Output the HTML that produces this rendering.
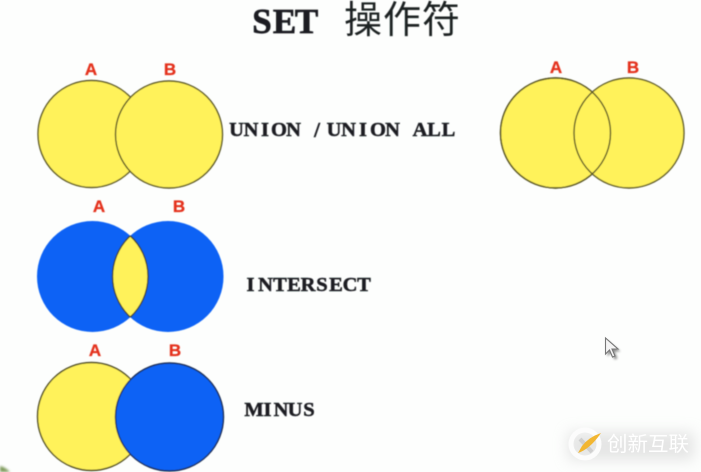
<!DOCTYPE html>
<html><head><meta charset="utf-8">
<style>html,body{margin:0;padding:0;background:#fdfefd}svg{display:block}
.m{font-family:"Liberation Serif",serif;font-weight:bold;fill:#1c1f22;stroke:#1c1f22;stroke-width:.5;text-anchor:middle}
.l{font-family:"Liberation Sans",sans-serif;font-weight:bold;font-size:17px;fill:#e4331f;stroke:#e4331f;stroke-width:.3;text-anchor:middle}
.c{font-family:"Liberation Sans","Noto Sans CJK SC",sans-serif}
</style></head><body>
<svg width="701" height="472" viewBox="0 0 701 472" xmlns="http://www.w3.org/2000/svg">
<defs>
<filter id="b" x="-5%" y="-5%" width="110%" height="110%"><feGaussianBlur stdDeviation="0.45"/></filter>
<filter id="s" x="-30%" y="-60%" width="160%" height="220%"><feGaussianBlur stdDeviation="7"/></filter>
<filter id="t" x="-50%" y="-50%" width="200%" height="200%"><feGaussianBlur stdDeviation="1.2"/></filter>
<clipPath id="lens"><circle cx="92.5" cy="276.5" r="55.5"/></clipPath>
</defs>
<rect width="701" height="472" fill="#fdfefd"/>
<g filter="url(#b)">
<text class="m" style="stroke-width:.7" x="262 284.500 306.500" y="33" font-size="35">SET</text>
<text class="c" x="344" y="33" font-size="38" fill="#1f2123" textLength="116">操作符</text>

<text class="l" x="91" y="75">A</text><text class="l" x="170" y="75">B</text>
<circle cx="91.5" cy="134" r="53.5" fill="#fff25a" stroke="#5a5728" stroke-width="1.4"/>
<circle cx="169" cy="134.5" r="53.5" fill="#fff25a" stroke="#5a5728" stroke-width="1.4"/>
<text class="m" x="236.500 251 265 279 293.500" y="136" font-size="20.500">UNION</text>
<text class="m" x="317" y="137" font-size="21">/</text>
<text class="m" x="334 348.500 363 378 392.500" y="136" font-size="20.500">UNION</text>
<text class="m" x="420 434 448.500" y="136" font-size="20.500">ALL</text>

<text class="l" x="556" y="73">A</text><text class="l" x="633" y="73">B</text>
<circle cx="555.5" cy="133" r="55" fill="#fff25a" stroke="#5a5728" stroke-width="1.4"/>
<circle cx="629" cy="133" r="55" fill="#fff25a" stroke="#5a5728" stroke-width="1.4"/>
<circle cx="555.5" cy="133" r="55" fill="none" stroke="#5a5728" stroke-width="1.4"/>

<text class="l" x="99" y="212">A</text><text class="l" x="179" y="212">B</text>
<circle cx="92.5" cy="276.5" r="55.5" fill="#0a62f5"/>
<circle cx="168" cy="276.5" r="55.5" fill="#0a62f5"/>
<circle cx="168" cy="276.5" r="55.5" fill="#fff25a" stroke="#33402f" stroke-width="1.4" clip-path="url(#lens)"/>
<path d="M130.3 235.8A55.5 55.5 0 0 1 130.3 317.2" fill="none" stroke="#33402f" stroke-width="1.4"/>
<text class="m" x="250.500 265.500 280 294 308 322 336 350 364" y="291" font-size="20.500">INTERSECT</text>

<text class="l" x="95" y="356">A</text><text class="l" x="175" y="356">B</text>
<circle cx="91.5" cy="416.5" r="54" fill="#fff25a" stroke="#4d4b25" stroke-width="1.4"/>
<circle cx="169.5" cy="417" r="54" fill="#0a62f5" stroke="#1c2f55" stroke-width="1.4"/>
<text class="m" x="254 267.500 281 295 309" y="416" font-size="20.500">MINUS</text>
</g>

<path d="M0 466Q5 467 10 472H0Z" fill="#7d9a5a" filter="url(#t)"/>

<!-- cursor -->
<path d="M606 339L606 355L610 351L613 358L616 357L613 350L619 350Z" fill="#000" opacity=".45" transform="translate(1.5 1.5)" filter="url(#t)"/>
<path d="M605.5 338L605.5 354L609.5 350L612.5 357L615 356L612 349L618 349Z" fill="#f4f4f4" stroke="#777" stroke-width="1.1"/>

<!-- watermark -->
<rect x="568" y="432" width="126" height="28" fill="#d4d4d4" opacity=".6" filter="url(#s)"/>
<circle cx="585" cy="444" r="14" fill="none" stroke="#fcfcfc" stroke-width="5"/>
<path d="M580 439L592 452" stroke="#cfcfcf" stroke-width="4" fill="none"/>
<path d="M578 453Q590 449 601 433Q589 437 582 446Z" fill="#f2b632"/>
<text class="c" x="607" y="451" font-size="20.500" fill="#ffffff">创新互联</text>
</svg>
</body></html>
